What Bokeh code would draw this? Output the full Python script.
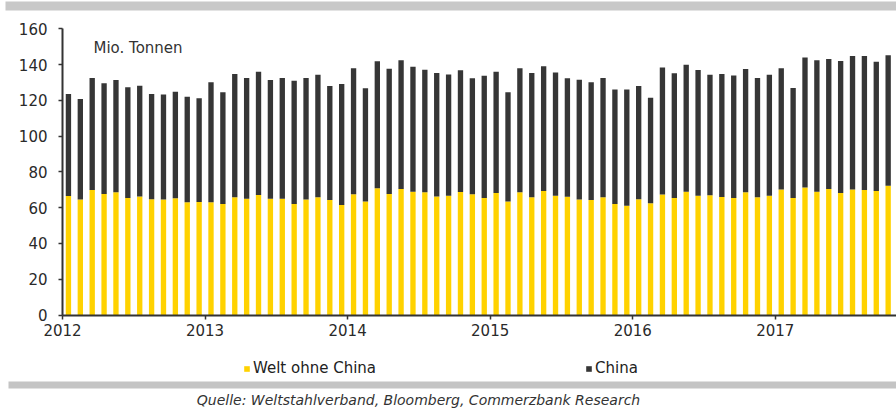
from bokeh.plotting import figure
from bokeh.models import (ColumnDataSource, FixedTicker, Legend, LegendItem,
                          Label, BoxAnnotation, Range1d)
from bokeh.embed import file_html
from bokeh.resources import INLINE

# ---------------- data ----------------
years = ["2012", "2013", "2014", "2015", "2016", "2017"]
y_ticks = [0, 20, 40, 60, 80, 100, 120, 140, 160]
series_names = ["Welt ohne China", "China"]

welt_ohne_china = [
    66.5, 64.5, 69.9, 67.6, 68.6, 65.4, 66.3, 64.7, 64.5, 65.2, 63.0, 63.2,
    63.0, 62.0, 65.8, 65.0, 67.1, 65.0, 65.0, 62.0, 64.5, 65.8, 64.3, 61.5,
    67.5, 63.4, 70.8, 67.6, 70.4, 68.9, 68.6, 66.3, 66.7, 68.8, 67.5, 65.4,
    68.2, 63.4, 68.6, 65.8, 69.3, 66.7, 66.1, 64.5, 64.3, 65.8, 62.0, 61.1,
    64.7, 62.4, 67.3, 65.4, 68.9, 66.7, 66.9, 66.0, 65.4, 68.6, 65.8, 66.7,
    70.1, 65.4, 71.2, 68.9, 70.4, 68.2, 70.1, 69.9, 69.3, 72.3]
china = [
    57.0, 56.2, 62.6, 61.9, 62.8, 61.9, 61.9, 58.8, 58.8, 59.6, 59.0, 57.9,
    67.1, 62.5, 68.9, 67.5, 68.9, 66.4, 67.5, 69.0, 68.0, 68.5, 63.7, 67.6,
    70.4, 63.3, 71.0, 70.1, 72.0, 69.9, 68.5, 69.0, 67.8, 68.0, 64.8, 68.4,
    67.8, 61.1, 69.3, 69.5, 69.7, 68.9, 66.2, 67.0, 65.8, 66.7, 64.1, 65.0,
    63.3, 59.1, 71.0, 69.7, 71.0, 70.2, 67.4, 68.7, 68.5, 68.9, 66.7, 67.6,
    67.8, 61.5, 72.8, 73.5, 72.7, 73.8, 74.7, 74.9, 72.3, 72.9]

# ---------------- layout ----------------
W, H = 896, 408
PX_MONTH = 11.88        # pixels per month
X0 = 62                 # pixel column of month 0
PX_UNIT = 1.789         # pixels per Mio. t
Y0 = 314.5              # pixel row (from top) of value 0

def px_x(px):
    return (px - X0) / PX_MONTH

def px_y(py):
    return (Y0 - py) / PX_UNIT

YELLOW = "#ffd200"
DARK = "#363636"
FONT = "DejaVu Sans"

n = len(welt_ohne_china)
source = ColumnDataSource(dict(
    x=[i + 0.5 for i in range(n)],
    welt=welt_ohne_china,
    china=china,
))

p = figure(width=W, height=H,
           x_range=Range1d(px_x(0), px_x(W)),
           y_range=Range1d(px_y(H), px_y(0)),
           output_backend="svg", toolbar_location=None,
           min_border=0, outline_line_color=None,
           background_fill_color="white", border_fill_color="white")
p.grid.visible = False

rs = p.vbar_stack(["welt", "china"], x="x", width=0.45, source=source,
                  color=[YELLOW, DARK], line_color=None)

# axes
p.xaxis.fixed_location = 0
p.yaxis.fixed_location = 0
p.xaxis.bounds = (0, px_x(W))
p.yaxis.bounds = (0, 160)
p.xaxis.ticker = FixedTicker(ticks=[12 * i for i in range(len(years))])
p.xaxis.major_label_overrides = {12 * i: y for i, y in enumerate(years)}
p.yaxis.ticker = FixedTicker(ticks=y_ticks)
for ax in (p.xaxis, p.yaxis):
    ax.axis_line_color = "#333333"
    ax.axis_line_width = 2
    ax.major_tick_line_color = "#333333"
    ax.major_tick_line_width = 1.5
    ax.major_tick_out = 4
    ax.major_tick_in = 0
    ax.minor_tick_line_color = None
    ax.major_label_text_font = FONT
    ax.major_label_text_font_size = "15px"
    ax.major_label_text_color = "#2a2a2a"
p.xaxis.major_label_standoff = 5
p.yaxis.major_label_standoff = 11

# unit label
p.add_layout(Label(x=px_x(93), y=px_y(47), text="Mio. Tonnen",
                   text_font=FONT, text_font_size="15px",
                   text_color="#333333", text_baseline="middle",
                   text_align="left"))

# legends
for r, name, lx in zip(rs, series_names, [243, 585]):
    lg = Legend(items=[LegendItem(label=name, renderers=[r])],
                location=(lx, 31), orientation="horizontal",
                padding=0, margin=0, spacing=0,
                glyph_width=7, glyph_height=7, label_standoff=3,
                label_height=15,
                label_text_font=FONT, label_text_font_size="15px",
                label_text_color="#222222",
                border_line_color=None, background_fill_alpha=0)
    p.add_layout(lg)

# decorative grey bands
p.add_layout(BoxAnnotation(left=px_x(5), top=px_y(1), bottom=px_y(10),
                           fill_color="#c8c8c8", fill_alpha=1,
                           line_color=None, level="underlay"))
p.add_layout(BoxAnnotation(left=px_x(8), top=px_y(381), bottom=px_y(388),
                           fill_color="#c4c4c4", fill_alpha=1,
                           line_color=None, level="underlay"))

# source
p.add_layout(Label(x=px_x(418), y=px_y(399), text="Quelle: Weltstahlverband, Bloomberg, Commerzbank Research",
                   text_font=FONT, text_font_size="14px",
                   text_font_style="italic", text_color="#333333",
                   text_baseline="middle", text_align="center"))

open("out.html", "w").write(file_html(p, INLINE))
